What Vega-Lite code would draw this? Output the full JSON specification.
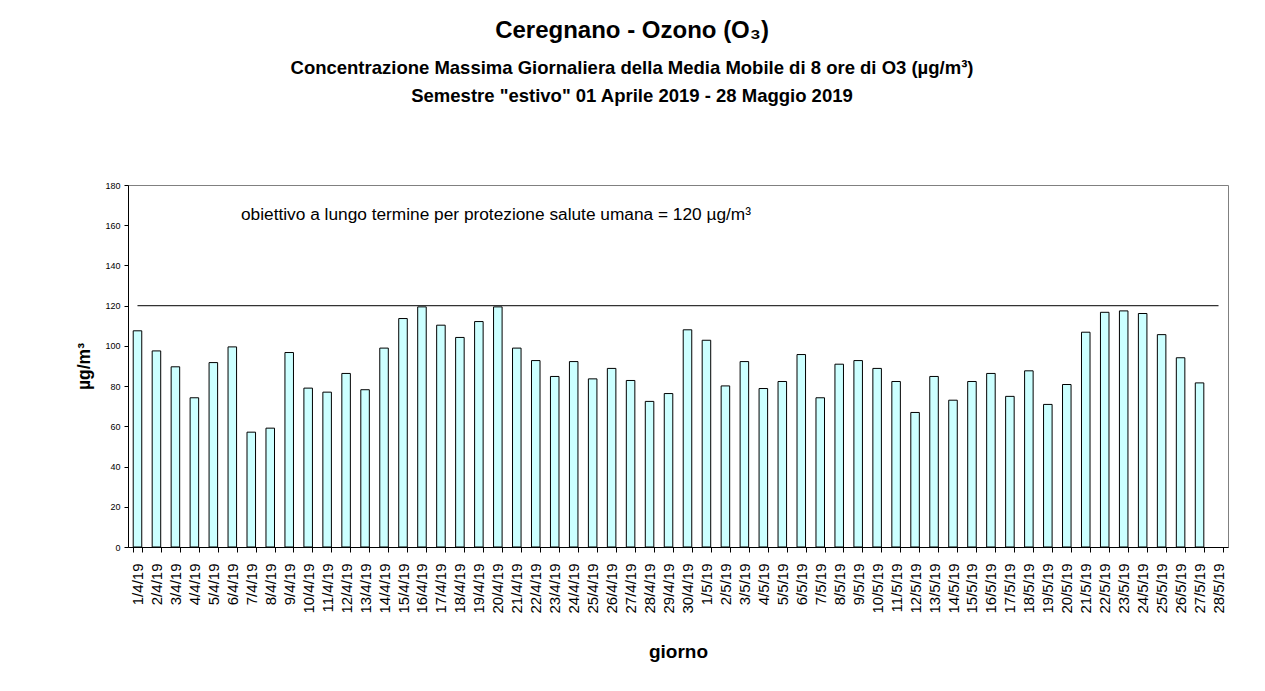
{
  "$schema": "https://vega.github.io/schema/vega-lite/v6.json",
  "width": 1100,
  "height": 362,
  "autosize": {"type": "none"},
  "padding": {"left": 128, "top": 185, "right": 37, "bottom": 144},
  "background": "white",
  "title": {
    "text": "Ceregnano - Ozono (O₃)",
    "subtitle": ["Concentrazione Massima Giornaliera della Media Mobile di 8 ore di O3  (µg/m³)", "Semestre \"estivo\" 01 Aprile 2019 - 28 Maggio 2019"],
    "font": "Liberation Sans",
    "fontSize": 24,
    "fontWeight": "bold",
    "color": "black",
    "subtitleFont": "Liberation Sans",
    "subtitleFontSize": 18.5,
    "subtitleFontWeight": "bold",
    "subtitleColor": "black",
    "subtitleLineHeight": 27.5,
    "subtitlePadding": 16,
    "offset": 76,
    "anchor": "middle",
    "frame": "group",
    "dx": -46
  },
  "data": {
    "values": [
      {"giorno": "1/4/19", "valore": 107.5, "limite": 120},
      {"giorno": "2/4/19", "valore": 97.5, "limite": 120},
      {"giorno": "3/4/19", "valore": 89.6, "limite": 120},
      {"giorno": "4/4/19", "valore": 74.2, "limite": 120},
      {"giorno": "5/4/19", "valore": 91.7, "limite": 120},
      {"giorno": "6/4/19", "valore": 99.5, "limite": 120},
      {"giorno": "7/4/19", "valore": 57.1, "limite": 120},
      {"giorno": "8/4/19", "valore": 59.1, "limite": 120},
      {"giorno": "9/4/19", "valore": 96.7, "limite": 120},
      {"giorno": "10/4/19", "valore": 79.0, "limite": 120},
      {"giorno": "11/4/19", "valore": 77.0, "limite": 120},
      {"giorno": "12/4/19", "valore": 86.3, "limite": 120},
      {"giorno": "13/4/19", "valore": 78.2, "limite": 120},
      {"giorno": "14/4/19", "valore": 98.9, "limite": 120},
      {"giorno": "15/4/19", "valore": 113.6, "limite": 120},
      {"giorno": "16/4/19", "valore": 119.4, "limite": 120},
      {"giorno": "17/4/19", "valore": 110.3, "limite": 120},
      {"giorno": "18/4/19", "valore": 104.2, "limite": 120},
      {"giorno": "19/4/19", "valore": 112.1, "limite": 120},
      {"giorno": "20/4/19", "valore": 119.4, "limite": 120},
      {"giorno": "21/4/19", "valore": 98.9, "limite": 120},
      {"giorno": "22/4/19", "valore": 92.7, "limite": 120},
      {"giorno": "23/4/19", "valore": 84.8, "limite": 120},
      {"giorno": "24/4/19", "valore": 92.2, "limite": 120},
      {"giorno": "25/4/19", "valore": 83.6, "limite": 120},
      {"giorno": "26/4/19", "valore": 88.8, "limite": 120},
      {"giorno": "27/4/19", "valore": 82.8, "limite": 120},
      {"giorno": "28/4/19", "valore": 72.4, "limite": 120},
      {"giorno": "29/4/19", "valore": 76.3, "limite": 120},
      {"giorno": "30/4/19", "valore": 108.0, "limite": 120},
      {"giorno": "1/5/19", "valore": 102.8, "limite": 120},
      {"giorno": "2/5/19", "valore": 80.1, "limite": 120},
      {"giorno": "3/5/19", "valore": 92.2, "limite": 120},
      {"giorno": "4/5/19", "valore": 78.8, "limite": 120},
      {"giorno": "5/5/19", "valore": 82.3, "limite": 120},
      {"giorno": "6/5/19", "valore": 95.7, "limite": 120},
      {"giorno": "7/5/19", "valore": 74.2, "limite": 120},
      {"giorno": "8/5/19", "valore": 90.9, "limite": 120},
      {"giorno": "9/5/19", "valore": 92.7, "limite": 120},
      {"giorno": "10/5/19", "valore": 88.8, "limite": 120},
      {"giorno": "11/5/19", "valore": 82.3, "limite": 120},
      {"giorno": "12/5/19", "valore": 66.9, "limite": 120},
      {"giorno": "13/5/19", "valore": 84.8, "limite": 120},
      {"giorno": "14/5/19", "valore": 73.0, "limite": 120},
      {"giorno": "15/5/19", "valore": 82.3, "limite": 120},
      {"giorno": "16/5/19", "valore": 86.3, "limite": 120},
      {"giorno": "17/5/19", "valore": 74.9, "limite": 120},
      {"giorno": "18/5/19", "valore": 87.6, "limite": 120},
      {"giorno": "19/5/19", "valore": 70.9, "limite": 120},
      {"giorno": "20/5/19", "valore": 80.8, "limite": 120},
      {"giorno": "21/5/19", "valore": 106.8, "limite": 120},
      {"giorno": "22/5/19", "valore": 116.7, "limite": 120},
      {"giorno": "23/5/19", "valore": 117.4, "limite": 120},
      {"giorno": "24/5/19", "valore": 116.1, "limite": 120},
      {"giorno": "25/5/19", "valore": 105.6, "limite": 120},
      {"giorno": "26/5/19", "valore": 94.1, "limite": 120},
      {"giorno": "27/5/19", "valore": 81.6, "limite": 120},
      {"giorno": "28/5/19", "valore": null, "limite": 120}
    ]
  },
  "layer": [
    {
      "mark": {"type": "bar", "fill": "#CCFFFF", "stroke": "black", "strokeWidth": 1},
      "encoding": {
        "x": {
          "field": "giorno",
          "type": "ordinal",
          "sort": null,
          "scale": {"paddingInner": 0.55, "paddingOuter": 0.275},
          "axis": {
            "title": "giorno",
            "labelAngle": -90,
            "labelFont": "Liberation Sans",
            "labelFontSize": 15,
            "labelColor": "black",
            "labelPadding": 11,
            "tickSize": 5,
            "tickBand": "extent",
            "tickColor": "black",
            "domainColor": "black",
            "titleFont": "Liberation Sans",
            "titleFontSize": 19,
            "titleFontWeight": "bold",
            "titleColor": "black",
            "titlePadding": 29
          }
        },
        "y": {
          "field": "valore",
          "type": "quantitative",
          "scale": {"domain": [0, 180]},
          "axis": {
            "title": "µg/m³",
            "values": [0, 20, 40, 60, 80, 100, 120, 140, 160, 180],
            "grid": false,
            "labelFont": "Liberation Sans",
            "labelFontSize": 9,
            "labelColor": "black",
            "labelPadding": 4,
            "tickSize": 4,
            "tickColor": "black",
            "domainColor": "black",
            "titleFont": "Liberation Sans",
            "titleFontSize": 17.5,
            "titleFontWeight": "bold",
            "titleColor": "black",
            "titlePadding": 11
          }
        }
      }
    },
    {
      "mark": {"type": "line", "color": "#333333", "strokeWidth": 1.3},
      "encoding": {
        "x": {"field": "giorno", "type": "ordinal", "sort": null},
        "y": {"field": "limite", "type": "quantitative"}
      }
    },
    {
      "data": {"values": [{"giorno": "7/4/19", "valore": 165, "testo": "obiettivo a lungo termine per protezione salute umana = 120 µg/m³"}]},
      "mark": {"type": "text", "align": "left", "baseline": "middle", "font": "Liberation Sans", "fontSize": 17.3, "color": "black", "dx": -6},
      "encoding": {
        "x": {"field": "giorno", "type": "ordinal", "sort": null, "bandPosition": 0},
        "y": {"field": "valore", "type": "quantitative"},
        "text": {"field": "testo"}
      }
    }
  ],
  "config": {
    "view": {"stroke": "#808080", "strokeWidth": 1}
  }
}
